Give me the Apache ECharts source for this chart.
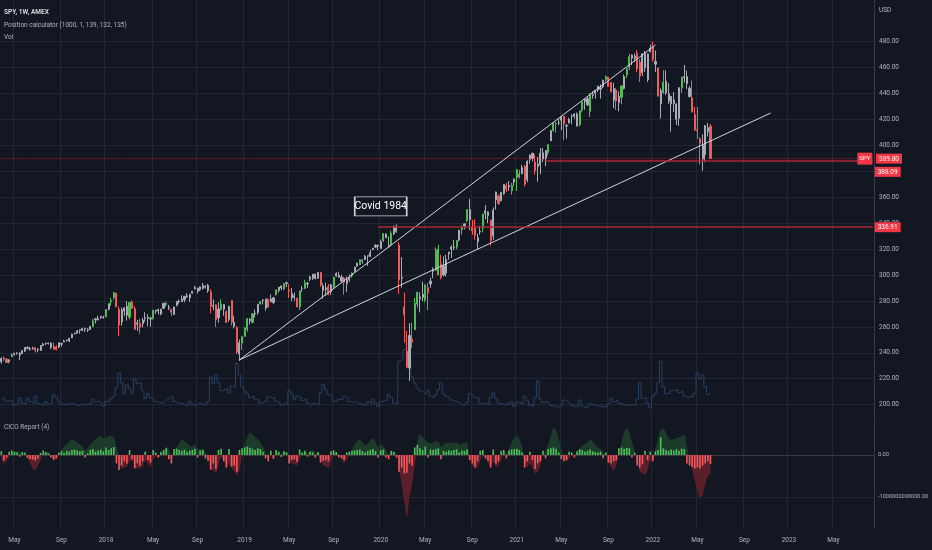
<!DOCTYPE html>
<html><head><meta charset="utf-8">
<script src="https://cdn.jsdelivr.net/npm/echarts@6/dist/echarts.min.js"></script>
<style>html,body{margin:0;padding:0;background:#131722;}#c{width:932px;height:550px;}</style>
</head><body><div id="c"></div>
<script>
const FONT = 'Roboto, "Liberation Sans", sans-serif';
const firstWeekUTC = Date.UTC(2017, 2, 27);
const weekCount = 334;
const labelMonths = [1, 5, 9];
const monthNames = {5: 'May', 9: 'Sep'};
const priceTicks = [200,220,240,260,280,300,320,340,360,380,400,420,440,460,480];
const cicoTicks = [0, -1000];

// weekly candles [open, close, low, high]
const ohlc2017 = [[233.0,235.7,231.6,236.5],[235.8,235.2,233.8,237.3],[235.0,232.5,232.4,236.0],[233.1,234.6,231.9,235.0],[237.2,238.1,237.0,239.5],[238.7,239.7,237.8,240.0],[239.8,239.4,238.6,240.4],[239.5,238.3,234.3,240.7],[239.3,241.7,239.1,241.9],[241.3,244.2,240.6,244.3],[244.0,243.4,242.6,245.0],[243.2,242.6,241.6,244.6],[243.6,243.1,242.3,244.7],[243.9,241.8,240.3,244.4],[242.9,242.1,240.5,243.4],[241.9,245.6,241.5,245.9],[245.6,246.9,245.3,247.7],[247.0,247.4,245.9,248.0],[247.5,247.4,246.4,248.0],[247.5,244.1,242.8,248.1],[245.0,242.7,242.3,247.8],[242.6,244.6,241.8,245.8],[244.5,247.8,243.6,248.0],[247.3,246.6,244.6,247.7],[248.4,249.2,248.2,250.1],[249.6,249.4,248.6,250.2],[249.2,251.2,248.2,251.3],[251.6,254.4,251.5,254.7],[254.6,254.9,254.2,255.7],[255.2,257.1,254.6,257.3],[257.5,257.7,254.7,257.9],[257.2,258.7,256.8,259.0],[258.7,258.1,256.1,259.5],[257.5,257.9,256.0,259.0],[258.0,260.4,257.6,260.5],[260.4,264.5,259.6,266.1],[266.3,265.5,262.6,266.8],[265.6,266.5,264.8,268.6],[268.1,267.5,266.1,268.6],[267.4,266.9,266.5,268.6]];
const ohlc2018 = [[267.8,273.4,267.4,273.6],[273.7,277.9,272.6,278.0],[279.4,280.4,276.2,282.3],[282.8,286.6,281.0,286.6],[285.9,275.5,275.4,286.4],[273.5,261.5,252.9,275.7],[263.8,273.1,261.0,275.0],[272.3,274.7,268.5,275.0],[275.9,269.1,264.8,279.9],[267.4,278.9,265.7,279.0],[279.2,274.2,273.8,280.4],[274.0,258.1,257.8,276.0],[262.1,263.2,256.9,265.4],[262.6,259.7,254.7,266.1],[262.4,265.2,259.7,267.0],[267.0,266.6,264.0,271.3],[267.3,266.6,260.5,269.8],[266.8,266.0,260.1,267.9],[266.4,272.9,265.6,273.0],[272.8,272.2,270.1,273.2],[273.5,272.2,269.5,274.0],[269.9,273.6,269.0,274.0],[274.3,278.2,273.8,278.3],[278.3,277.1,275.8,279.5],[275.3,274.7,273.0,277.0],[273.6,271.3,268.5,274.0],[269.5,275.4,269.3,275.6],[276.6,279.6,275.7,279.6],[279.4,279.7,278.0,281.2],[279.5,281.4,279.2,284.4],[280.9,283.6,279.0,283.7],[284.0,283.2,282.5,286.1],[282.3,285.1,279.2,285.6],[286.0,287.5,285.5,287.7],[289.4,290.3,288.9,291.7],[289.8,287.6,285.9,290.2],[288.7,290.9,287.6,291.3],[289.6,292.0,288.8,293.9],[291.3,290.7,289.6,292.2],[292.1,287.8,286.3,293.2],[287.1,276.0,270.4,289.0],[275.6,276.3,272.9,281.2],[277.0,265.3,259.9,277.4],[267.0,273.8,263.3,278.9],[273.6,277.8,272.5,281.2],[277.2,273.7,268.7,277.5],[271.8,263.3,263.1,272.5],[265.8,275.7,263.9,276.3],[280.3,263.6,261.1,280.4],[263.4,260.5,258.8,268.6],[259.4,240.7,239.0,260.6],[239.0,247.8,233.8,250.2],[247.6,252.4,242.3,253.1]];
const ohlc2019 = [[252.7,259.0,252.3,260.0],[258.2,266.5,256.1,266.8],[264.8,265.8,261.9,266.9],[263.4,270.1,262.8,270.5],[270.1,270.5,267.3,273.4],[271.2,277.4,269.4,277.4],[277.7,279.5,277.2,279.8],[280.7,280.4,277.4,281.3],[281.4,274.5,272.4,281.7],[275.2,281.3,274.9,282.1],[281.6,279.3,279.1,285.0],[278.9,282.5,277.5,283.0],[284.7,288.6,284.3,288.7],[288.1,290.7,286.5,290.8],[291.6,290.0,288.4,291.8],[289.2,293.4,288.4,293.5],[293.5,294.0,290.8,295.0],[288.5,287.5,282.3,292.9],[282.4,285.8,279.9,290.0],[284.1,282.8,280.3,286.5],[282.1,275.3,275.3,282.5],[275.3,287.7,273.0,287.9],[289.4,289.3,287.0,291.5],[289.5,294.0,289.2,296.3],[293.6,293.0,290.2,294.8],[296.7,298.5,295.3,299.5],[297.6,300.7,296.1,300.7],[300.6,297.2,296.6,301.1],[297.6,302.0,297.0,302.2],[301.9,292.6,290.9,302.2],[288.1,291.6,281.7,293.6],[290.0,288.9,284.0,294.2],[290.9,284.9,284.3,293.1],[287.3,292.5,284.8,293.2],[290.6,298.1,289.3,298.8],[299.2,301.1,298.6,302.2],[299.8,298.3,297.8,302.6],[298.4,295.4,293.7,300.2],[297.7,294.4,284.8,298.5],[293.3,296.3,286.8,298.7],[296.3,298.0,294.8,300.4],[299.4,301.6,297.9,302.0],[302.9,306.1,301.8,306.2],[307.0,309.0,306.2,309.7],[308.0,311.8,307.9,311.8],[311.5,311.0,308.8,312.0],[311.9,314.3,311.9,315.5],[314.6,314.9,307.1,314.9],[314.4,317.3,313.7,319.5],[319.7,320.7,319.1,320.9],[321.6,322.9,320.9,323.8],[322.9,322.4,319.3,323.6]];
const ohlc2020 = [[320.5,325.7,320.4,327.5],[326.4,332.0,325.5,332.0],[331.7,328.8,328.4,332.2],[323.0,321.7,321.3,329.8],[323.4,332.2,322.5,334.2],[331.7,337.6,331.0,338.1],[337.2,333.5,332.6,339.1],[323.1,296.3,285.5,325.4],[298.2,297.5,290.3,313.8],[275.3,269.3,247.7,286.4],[241.2,228.8,228.0,256.9],[228.2,253.4,218.3,262.8],[250.7,248.2,243.9,263.3],[257.8,278.2,257.8,282.3],[277.6,286.6,275.0,287.3],[281.8,283.0,271.2,286.8],[285.1,282.8,280.0,294.9],[280.7,292.4,279.0,292.9],[290.3,286.3,272.9,294.0],[293.1,295.4,290.2,298.0],[302.9,304.3,297.5,306.0],[303.6,319.3,303.1,321.3],[320.2,300.1,299.9,323.4],[298.0,308.6,296.7,315.6],[307.0,300.1,298.9,314.5],[301.4,312.2,298.9,315.7],[316.4,317.6,311.8,317.9],[320.1,321.7,313.0,323.0],[321.4,320.9,319.2,327.2],[321.6,326.5,319.8,327.0],[327.0,334.6,325.9,334.9],[335.1,336.8,331.2,338.3],[337.9,339.5,335.2,339.7],[342.1,350.6,340.8,350.7],[350.4,342.6,334.7,358.8],[336.7,334.1,331.0,342.6],[336.6,330.7,327.3,343.1],[325.7,328.7,319.8,331.7],[333.2,333.8,331.1,338.0],[336.1,346.9,332.9,347.4],[349.6,347.3,343.0,354.0],[348.7,345.8,340.1,349.3],[342.1,326.5,322.6,342.9],[330.2,350.2,327.2,352.2],[364.0,358.1,350.5,364.4],[360.9,355.3,354.1,362.3],[357.3,363.7,357.0,364.2],[362.8,369.9,362.0,369.9],[369.0,366.3,364.0,371.1],[367.9,369.2,364.8,372.5],[365.0,369.0,362.0,371.0],[371.7,373.9,368.9,374.7]];
const ohlc2021 = [[375.3,381.3,364.8,381.5],[377.9,375.7,374.5,381.1],[378.3,382.9,377.7,385.0],[383.7,370.1,368.3,385.0],[373.7,387.7,371.6,388.5],[389.3,392.6,386.0,392.9],[394.0,390.0,387.7,394.2],[387.1,380.4,377.5,393.1],[385.6,383.6,372.0,390.9],[385.0,394.1,377.8,398.1],[394.3,389.5,387.0,398.0],[390.0,396.0,383.9,396.4],[394.4,400.6,392.3,400.7],[403.5,411.5,403.4,411.7],[411.5,417.3,410.6,417.9],[416.9,416.7,410.0,418.3],[417.4,417.3,415.6,420.7],[419.4,422.1,411.7,422.8],[422.5,416.6,404.0,422.7],[415.4,414.9,405.3,416.4],[417.3,420.0,417.0,421.3],[422.6,422.6,416.3,424.0],[422.6,424.3,420.6,424.6],[424.4,414.9,414.7,425.5],[415.9,426.6,414.7,427.0],[427.2,433.7,425.6,433.7],[433.8,435.5,427.5,436.0],[436.0,431.3,430.5,437.9],[426.2,439.9,422.0,440.3],[439.3,438.5,436.0,441.8],[440.3,442.5,436.1,442.9],[442.8,445.9,441.3,445.9],[444.5,443.4,436.1,447.1],[445.2,450.3,444.2,450.7],[451.0,453.1,449.3,454.1],[452.7,445.4,445.2,452.8],[448.6,441.4,441.0,448.9],[434.9,443.9,428.8,448.3],[442.8,434.2,427.4,444.1],[433.0,437.9,426.4,441.7],[437.2,445.9,431.8,446.3],[444.0,453.1,443.2,454.7],[454.3,459.3,452.0,459.6],[460.3,468.5,458.0,470.7],[469.7,467.3,462.0,470.2],[467.2,468.9,464.5,470.9],[470.9,459.0,456.4,473.5],[464.1,453.4,448.9,466.6],[456.1,470.7,453.5,470.9],[470.9,459.9,456.7,472.9],[450.7,470.6,448.9,470.9],[472.1,475.0,472.0,477.9]];
const ohlc2022 = [[476.3,466.1,464.7,480.0],[462.7,464.7,456.6,473.2],[459.7,438.0,438.0,460.0],[432.0,442.0,420.8,444.0],[441.2,448.7,439.8,458.1],[449.5,440.5,438.9,457.9],[439.9,434.2,432.0,448.1],[431.9,437.8,410.6,438.2],[435.0,432.2,425.9,441.1],[432.0,420.1,415.8,432.3],[420.9,444.5,415.1,444.9],[444.3,452.7,440.7,453.0],[452.1,452.9,448.4,462.1],[453.1,447.6,443.5,457.8],[444.1,437.8,436.9,445.8],[436.8,426.0,425.4,450.0],[423.7,412.0,411.2,429.7],[412.1,411.3,405.0,429.7],[405.1,401.7,385.2,406.4],[400.0,389.6,380.5,408.6],[392.8,415.3,387.0,415.4],[413.6,410.5,406.9,417.4],[414.8,389.8,389.8,416.5]];

// candle colour flags: g = green, r = red, n = grey
const flags2017 = "nrrnnnnnnnnnnrnnnnnnrrnnnnnnnnnnnnngnnnn";
const flags2018 = "gnggrrnnngrrnrnnnngnnnngnrnnnnnnnnnnnnnnrnrngnrnrnrng";
const flags2019 = "ggngnngnnrnngnngnrnnrgngnnnnnrnnrngnnnrnngnngnnnnnnn";
const flags2020 = "ngnngnnrnrrnrggnngrnnggrnnnnngngngnrrnngnnrnnrnnrngn";
const flags2021 = "ggnrnnnrnnnngnggnnrnnnnnggnngnnnnngrrnrngnggnnrrnnnn";
const flags2022 = "rnrngnnnnnngnnnrrrrnnnr";

// weekly volume, millions of shares
const vol2017 = [480,520,430,450,420,330,360,520,380,350,500,420,380,560,370,340,330,420,360,380,600,520,430,360,330,370,350,380,340,320,330,360,340,370,350,480,420,430,380,300];
const vol2018 = [420,430,500,560,780,1150,900,620,850,750,620,1000,880,900,700,500,620,520,480,420,400,380,430,480,520,560,420,390,360,380,330,330,430,350,320,370,380,330,360,420,1050,880,1100,900,700,720,760,640,820,780,1400,1100,800];
const vol2019 = [700,620,520,560,480,460,380,420,420,540,500,520,430,400,330,380,330,700,620,480,560,520,450,500,380,330,380,350,340,640,850,720,600,560,430,420,480,460,560,520,420,400,420,380,360,340,330,420,370,480,380,300];
const vol2020 = [420,440,460,600,520,380,360,1450,1500,1750,1800,1500,1050,900,760,700,650,620,700,560,520,600,720,900,620,560,520,460,430,420,380,330,340,400,620,580,520,520,380,380,360,350,520,640,500,380,360,330,380,340,420,300];
const vol2021 = [400,420,360,560,440,330,300,520,950,480,400,420,380,320,300,280,300,330,460,420,380,320,280,300,460,300,260,300,360,340,320,300,300,280,300,360,500,420,460,380,360,340,320,340,330,330,480,900,500,520,380,260];
const vol2022 = [560,620,900,1450,800,620,640,700,720,720,650,700,560,520,560,540,640,1150,1000,1100,800,600,650];

// CICO Report histogram and area, billions
const cicoHist2017 = [90,-130,-60,80,110,80,60,-40,70,60,-70,-100,-110,-130,-90,50,110,70,40,-60,-110,-80,60,90,50,100,80,120,130,110,90,100,-60,40,120,140,80,110,130,90];
const cicoArea2017 = [-100,-200,-150,-40,50,80,90,60,40,20,-80,-200,-330,-360,-250,-120,20,80,60,-40,-120,-100,-20,120,200,260,320,360,340,300,250,200,120,160,250,330,370,420,450,400];
const cicoHist2018 = [180,120,160,190,-200,-360,-250,-150,-200,120,-100,-320,-200,-250,-150,80,-120,-180,120,60,-60,80,120,160,-100,-200,140,150,120,100,130,80,100,120,150,-60,110,120,-80,-140,-350,-200,-330,120,150,-150,-300,140,-280,-250,-400,120,160];
const cicoArea2018 = [420,440,450,430,200,-150,-330,-300,-280,-150,-140,-280,-320,-310,-280,-150,-200,-290,-120,-30,-60,0,80,200,120,-80,40,180,300,360,340,280,220,200,240,160,120,160,60,-80,-300,-380,-420,-250,-60,-100,-250,-220,-300,-400,-480,-350,-40];
const cicoHist2019 = [180,200,170,150,120,160,140,80,-80,-150,100,-90,120,80,-50,90,60,-200,-120,-100,-160,130,60,100,-40,80,60,-60,70,-180,-140,-120,-150,90,110,70,-60,-80,-120,60,80,100,110,120,130,90,60,100,120,140,90,-60];
const cicoArea2019 = [250,420,530,500,420,380,300,200,80,-60,-20,-80,40,60,20,50,70,-120,-200,-220,-260,-100,0,80,60,100,120,60,40,-120,-240,-280,-300,-160,-20,60,20,-60,-200,-120,0,120,250,330,360,300,220,260,340,400,330,180];
const cicoHist2020 = [110,130,-60,-100,100,80,-60,-400,-300,-440,-420,-200,-250,180,240,160,120,200,-60,130,120,140,160,-100,100,80,110,100,120,140,60,110,100,130,-120,-200,-280,-150,100,120,-80,-140,-300,130,-200,-150,100,120,-80,110,130,140];
const cicoArea2020 = [250,200,120,20,60,80,20,-350,-700,-1100,-1470,-1000,-700,-250,300,500,420,360,300,280,300,320,330,200,250,280,300,290,300,310,250,270,280,300,-100,-250,-340,-300,-150,0,-60,-180,-280,-160,-280,-250,-100,60,40,150,300,400];
const cicoHist2021 = [150,120,60,-300,-150,80,-120,-330,-200,-150,100,-80,140,160,180,150,60,-100,-150,-120,80,60,-60,90,140,120,80,100,130,90,70,60,80,-80,60,-180,-200,-150,-130,160,180,150,170,160,-60,50,-250,-300,-220,100,-120,80];
const cicoArea2021 = [450,380,200,-150,-300,-200,-300,-440,-400,-250,0,100,250,450,650,600,380,150,-60,-150,-80,0,-20,60,150,220,260,300,370,330,250,180,150,60,20,-150,-300,-360,-250,0,300,550,635,550,300,120,-200,-400,-430,-480,-350,-150];
const cicoHist2022 = [-150,90,120,420,160,120,100,130,110,140,100,150,140,-200,-250,-280,-320,-300,-320,-250,-200,-150,-220];
const cicoArea2022 = [-100,150,400,600,635,520,400,360,380,400,420,450,475,200,-100,-350,-600,-850,-1030,-950,-700,-500,-450];

// drawn levels and annotations
const lastPrice = 389.80;
const rayPrice = 388.09, rayStart = '2021-03-22';
const resPrice = 336.91, resStart = '2019-12-30';
const trendUpper = [['2018-12-24', 234.5], ['2022-01-10', 477.5]];
const trendLower = [['2018-12-24', 234.5], ['2022-11-14', 425.0]];
const noteText = 'Covid 1984', noteWeek = '2020-01-06', notePrice = 353;

// ---------- build ----------
const categories = [];
for (let i = 0; i < weekCount; i++) {
  categories.push(new Date(firstWeekUTC + i * 7 * 86400000).toISOString().slice(0, 10));
}
const ohlc = [].concat(ohlc2017, ohlc2018, ohlc2019, ohlc2020, ohlc2021, ohlc2022);
const flagYears = [[flags2017, ohlc2017.length],[flags2018, ohlc2018.length],[flags2019, ohlc2019.length],[flags2020, ohlc2020.length],[flags2021, ohlc2021.length],[flags2022, ohlc2022.length]];
const flags = [];
flagYears.forEach(([s, n]) => { for (let i = 0; i < n; i++) flags.push(s.charAt(i) || 'n'); });
const volume = [].concat(vol2017, vol2018, vol2019, vol2020, vol2021, vol2022);
const cicoHist = [].concat(cicoHist2017, cicoHist2018, cicoHist2019, cicoHist2020, cicoHist2021, cicoHist2022);
const cicoArea = [].concat(cicoArea2017, cicoArea2018, cicoArea2019, cicoArea2020, cicoArea2021, cicoArea2022);
// the area is filled green above zero and red below it
const cicoAreaUp = cicoArea.map(v => Math.max(v, 0));
const cicoAreaDown = cicoArea.map(v => Math.min(v, 0));

const GREEN = '#53b957', RED = '#f05b5b', GREY = '#a9acb5';
const colorOf = { g: GREEN, r: RED, n: GREY };
const candleData = ohlc.map((v, i) => {
  const c = colorOf[flags[i]];
  return { value: v, itemStyle: { color: c, color0: c, borderColor: c, borderColor0: c } };
});

const GRIDC = '#232733', AXISC = '#363a45', TXT = '#b2b5be', LVL = '#f23645';
const isLabelWeek = (idx, val) => {
  const m = +val.slice(5, 7), d = +val.slice(8, 10);
  return d <= 7 && labelMonths.indexOf(m) >= 0;
};
const fmtWeek = val => {
  const m = +val.slice(5, 7);
  return m === 1 ? val.slice(0, 4) : monthNames[m];
};
const cat = d => categories.indexOf(d);
const tStyle = (size, weight, color) => ({ fontSize: size, fontWeight: weight, color: color, fontFamily: FONT });
const boxRich = { b: { backgroundColor: LVL, color: '#ffffff', padding: [2, 3, 1, 3], fontSize: 6.5, fontFamily: FONT } };
const priceLabel = (txt, drop) => ({
  show: true, position: 'end', distance: 2, formatter: '{b|' + txt + '}',
  padding: [drop, 0, 0, 0], rich: boxRich
});
const levelLine = { color: '#a82a36', width: 1.6, type: 'solid', opacity: 1 };
const trendLine = { color: '#d1d4dc', width: 1, type: 'solid', opacity: 1 };

const chart = echarts.init(document.getElementById('c'), null, { renderer: 'canvas' });
chart.setOption({
  backgroundColor: '#131722',
  animation: false,
  title: [
    { text: 'SPY, 1W, AMEX', left: 4, top: 9, padding: 0, textStyle: tStyle(6.5, 'bold', '#d1d4dc') },
    { text: 'Position calculator (1000, 1, 139, 132, 135)', left: 4, top: 22, padding: 0, textStyle: tStyle(6.5, 'normal', TXT) },
    { text: 'Vol', left: 4, top: 34, padding: 0, textStyle: tStyle(6.5, 'normal', TXT) },
    { text: 'CICO Report (4)', left: 4, top: 424, padding: 0, textStyle: tStyle(6.5, 'normal', TXT) },
    { text: 'USD', left: 879, top: 7, padding: 0, textStyle: tStyle(6.5, 'normal', TXT) }
  ],
  grid: [
    { left: 0, right: 58, top: 0, height: 418, outerBoundsMode: 'none', containLabel: false },
    { left: 0, right: 58, top: 418, height: 110, outerBoundsMode: 'none', containLabel: false }
  ],
  xAxis: [
    { type: 'category', gridIndex: 0, data: categories, boundaryGap: true,
      axisLine: { show: false }, axisTick: { show: false }, axisLabel: { show: false },
      splitLine: { show: true, interval: isLabelWeek, lineStyle: { color: GRIDC } } },
    { type: 'category', gridIndex: 1, data: categories, boundaryGap: true,
      axisLine: { show: true, lineStyle: { color: AXISC } }, axisTick: { show: false },
      axisLabel: { interval: isLabelWeek, formatter: fmtWeek, color: TXT, fontSize: 6.5, fontFamily: FONT, margin: 9 },
      splitLine: { show: true, interval: isLabelWeek, lineStyle: { color: GRIDC } } }
  ],
  yAxis: [
    { type: 'value', gridIndex: 0, position: 'right', min: 189.7, max: 512.2, scale: true,
      axisLine: { show: true, lineStyle: { color: AXISC } },
      axisTick: { show: false, customValues: priceTicks },
      axisLabel: { customValues: priceTicks, formatter: v => v.toFixed(2), color: TXT, fontSize: 6.5, fontFamily: FONT, margin: 5 },
      splitLine: { show: true, lineStyle: { color: GRIDC } } },
    { type: 'value', gridIndex: 0, min: 0, max: 10700, show: false, splitLine: { show: false } },
    { type: 'value', gridIndex: 1, position: 'right', min: -1738, max: 881,
      axisLine: { show: true, lineStyle: { color: AXISC } },
      axisTick: { show: false, customValues: cicoTicks },
      axisLabel: { customValues: cicoTicks, formatter: v => (v * 1e9).toFixed(2), color: TXT, fontSize: 5.6, fontFamily: FONT, margin: 4 },
      splitLine: { show: true, lineStyle: { color: GRIDC } } }
  ],
  series: [
    { type: 'candlestick', name: 'SPY', xAxisIndex: 0, yAxisIndex: 0, z: 3, barWidth: 1.6,
      data: candleData,
      itemStyle: { borderWidth: 1 },
      markLine: {
        silent: true, symbol: ['none', 'none'], animation: false,
        lineStyle: trendLine,
        label: { show: false },
        data: [
          [{ coord: [cat(trendUpper[0][0]), trendUpper[0][1]] }, { coord: [cat(trendUpper[1][0]), trendUpper[1][1]] }],
          [{ coord: [cat(trendLower[0][0]), trendLower[0][1]] }, { coord: [cat(trendLower[1][0]), trendLower[1][1]] }]
        ]
      },
      markPoint: {
        silent: true, animation: false,
        data: [
          { coord: [cat(noteWeek), notePrice], symbol: 'rect', symbolSize: [52, 19],
            itemStyle: { color: '#131722', borderColor: '#d1d4dc', borderWidth: 1 },
            label: { show: true, position: 'inside', formatter: noteText, color: '#ffffff', fontSize: 10.5, fontFamily: FONT } },
          { coord: [330, lastPrice], symbol: 'rect', symbolSize: [15, 12],
            itemStyle: { color: LVL },
            label: { show: true, position: 'inside', formatter: 'SPY', color: '#ffffff', fontSize: 6, fontFamily: FONT } }
        ]
      }
    },
    { type: 'line', name: 'Vol', xAxisIndex: 0, yAxisIndex: 1, z: 1, data: volume, step: 'middle',
      symbol: 'none', lineStyle: { color: '#284163', width: 1 } },
    { type: 'line', name: 'CICO up', xAxisIndex: 1, yAxisIndex: 2, z: 1, data: cicoAreaUp, smooth: 0.3,
      symbol: 'none', lineStyle: { width: 0, color: '#1d3b2b' }, itemStyle: { color: '#1d3b2b' },
      areaStyle: { color: '#1d3b2b', opacity: 1 } },
    { type: 'line', name: 'CICO down', xAxisIndex: 1, yAxisIndex: 2, z: 1, data: cicoAreaDown, smooth: 0.3,
      symbol: 'none', lineStyle: { width: 0, color: '#5a1f2a' }, itemStyle: { color: '#5a1f2a' },
      areaStyle: { color: '#5a1f2a', opacity: 1 } },
    { type: 'bar', name: 'CICO', xAxisIndex: 1, yAxisIndex: 2, z: 2, data: cicoHist, barWidth: '62%',
      itemStyle: { color: p => (p.value >= 0 ? '#4fbf58' : '#f25a5f') } },
    { type: 'line', name: 'Levels', xAxisIndex: 0, yAxisIndex: 0, z: 4, data: [], symbol: 'none',
      itemStyle: { color: '#a82a36' }, lineStyle: { color: '#a82a36' },
      markLine: {
        silent: true, symbol: ['none', 'none'], animation: false,
        lineStyle: levelLine,
        data: [
          { yAxis: lastPrice, lineStyle: { color: 'rgba(242,54,69,0.4)', width: 1, type: 'dotted' }, label: priceLabel(lastPrice.toFixed(2), 0) },
          [{ xAxis: cat(rayStart), yAxis: rayPrice, label: priceLabel(rayPrice.toFixed(2), 22) }, { xAxis: weekCount - 1, yAxis: rayPrice }],
          [{ xAxis: cat(resStart), yAxis: resPrice, label: priceLabel(resPrice.toFixed(2), 0) }, { xAxis: weekCount - 1, yAxis: resPrice }]
        ]
      }
    }
  ]
});
</script>
</body></html>
